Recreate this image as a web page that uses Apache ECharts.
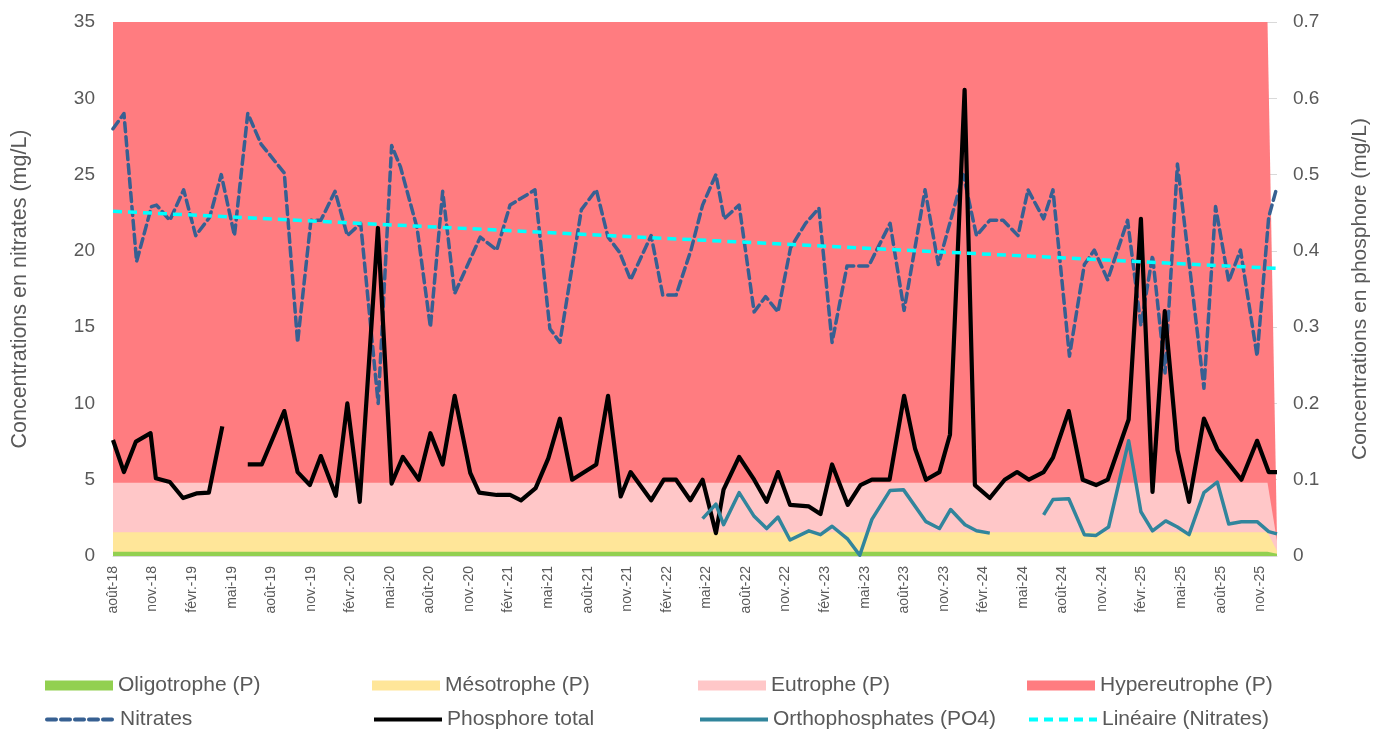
<!DOCTYPE html>
<html>
<head>
<meta charset="utf-8">
<script src="https://cdn.jsdelivr.net/npm/echarts@6/dist/echarts.min.js"></script>
<style>
html,body{margin:0;padding:0;background:#fff;overflow:hidden;}
#chart{width:1379px;height:729px;}
</style>
</head>
<body>
<div id="chart"></div>
<script>
// x values are months elapsed since 1 Aug 2018 (sampling dates)
const xTickLabels = ['août-18','nov.-18','févr.-19','mai-19','août-19','nov.-19','févr.-20','mai-20','août-20','nov.-20','févr.-21','mai-21','août-21','nov.-21','févr.-22','mai-22','août-22','nov.-22','févr.-23','mai-23','août-23','nov.-23','févr.-24','mai-24','août-24','nov.-24','févr.-25','mai-25','août-25','nov.-25'];
const xMax = 88.27;

const nitrateDates = [0,0.83,1.79,2.92,3.30,4.31,5.36,6.27,7.33,8.21,9.21,10.22,11.23,12.99,14.00,15.01,15.76,16.84,17.77,18.78,20.11,21.13,21.80,23.06,24.07,25.00,25.91,27.85,29.10,30.11,32.00,33.13,33.89,35.52,36.65,37.54,38.42,39.25,40.81,41.69,42.70,43.83,44.71,45.72,46.35,47.48,48.62,49.49,50.43,51.38,52.52,53.53,54.53,55.66,57.30,58.93,59.99,61.58,62.59,64.48,65.48,66.49,67.50,68.63,69.39,70.57,71.28,72.53,73.66,74.42,75.43,76.94,77.95,78.83,79.78,80.72,82.73,83.61,84.61,85.50,86.76,87.64,88.27];
const nitrates = [28.0,29.0,19.3,22.9,23.0,22.0,24.0,21.0,22.2,25.0,21.0,29.0,27.0,25.1,14.0,22.0,22.0,23.9,21.0,21.8,10.0,26.9,25.5,21.5,15.0,23.9,17.2,20.9,20.05,23.0,24.0,14.9,14.0,22.7,24.0,20.9,19.9,18.1,21.0,17.1,17.1,20.05,23.0,25.0,22.1,23.0,16.0,17.0,16.0,20.2,21.8,22.8,14.0,19.0,19.0,21.8,16.1,24.0,19.1,25.0,21.0,22.0,22.0,21.0,24.0,22.1,24.0,13.1,19.1,20.05,18.1,22.0,15.1,19.7,12.0,25.7,11.0,22.9,18.0,20.05,13.1,22.2,24.2];

const phosDates = [0,0.83,1.74,2.85,3.25,4.31,5.31,6.32,7.27,8.29,9.21,10.22,11.28,12.99,14.00,14.93,15.76,16.90,17.77,18.71,20.09,21.13,21.98,23.19,24.07,25.00,25.91,27.09,27.77,29.10,30.11,30.94,32.05,33.01,33.89,34.82,36.65,37.54,38.50,39.25,40.81,41.77,42.70,43.78,44.71,45.72,46.30,47.48,48.62,49.57,50.43,51.34,52.77,53.65,54.53,55.72,56.68,57.55,58.89,59.99,60.82,61.65,62.67,63.47,64.58,65.36,66.49,67.62,68.56,69.46,70.57,71.28,72.48,73.54,74.55,75.43,77.02,77.95,78.83,79.76,80.72,81.60,82.73,83.74,85.57,86.76,87.64,88.27];
const phosphoreTotal = [0.152,0.110,0.150,0.161,0.102,0.097,0.076,0.082,0.083,0.170,null,0.120,0.120,0.190,0.110,0.093,0.131,0.079,0.200,0.071,0.430,0.095,0.130,0.100,0.161,0.120,0.210,0.109,0.083,0.080,0.080,0.073,0.089,0.128,0.180,0.100,0.120,0.210,0.078,0.110,0.073,0.100,0.100,0.073,0.100,0.030,0.087,0.130,0.100,0.071,0.110,0.067,0.065,0.055,0.120,0.067,0.093,0.100,0.100,0.210,0.141,0.100,0.110,0.159,0.611,0.093,0.076,0.100,0.110,0.100,0.110,0.129,0.190,0.100,0.093,0.100,0.179,0.442,0.084,0.321,0.139,0.071,0.180,0.140,0.100,0.151,0.110,0.110];

const orthoDates = [44.71,45.72,46.30,47.48,48.62,49.57,50.43,51.34,52.77,53.65,54.53,55.72,56.63,57.55,58.93,59.94,61.65,62.67,63.52,64.61,65.48,66.49,69.00,70.57,71.28,72.48,73.66,74.55,75.50,77.02,77.95,78.83,79.83,80.72,81.60,82.73,83.74,84.61,85.57,86.76,87.64,88.27];
const orthophosphates = [0.049,0.068,0.041,0.083,0.052,0.036,0.051,0.021,0.033,0.028,0.039,0.022,0.001,0.048,0.086,0.087,0.045,0.036,0.061,0.041,0.033,0.030,null,0.054,0.074,0.075,0.028,0.027,0.038,0.151,0.058,0.033,0.046,0.038,0.028,0.083,0.097,0.042,0.045,0.045,0.032,0.029];

const trendDates = [0, 88.27];
const trendNitrates = [22.6, 18.85];

// trophic class thresholds (phosphorus, mg/L)
const zoneDates = [0, 87.55, 88.27];
const oligotrophe = [0.0055, 0.0055, 0.003];
const mesotrophe = [0.031, 0.031, 0.0065];
const eutrophe = [0.096, 0.096, 0.02];
const hypereutrophe = [0.7, 0.7, 0.024];

function pairs(xs, ys){ return xs.map((x,i)=>[x, ys[i]===null ? '-' : ys[i]]); }

const FONT = "'Liberation Sans', Arial, sans-serif";
const TXT = '#595959';

function area(name, color, xs, ys){
  return {name, type:'line', yAxisIndex:1, color, symbol:'none', silent:true,
    lineStyle:{width:0}, areaStyle:{color, opacity:1}, data:pairs(xs, ys), animation:false};
}

function legendItem(name, left, top, isLine){
  const l = {orient:'horizontal', left, top, padding:0, itemWidth:68, itemTextGap:7,
    selectedMode:false, textStyle:{fontFamily:FONT, fontSize:21, color:TXT}};
  if (isLine) {
    l.itemHeight = 2;
    l.data = [{name, itemStyle:{opacity:0}, lineStyle:{width:4}}];
  } else {
    l.itemHeight = 10;
    l.data = [{name, icon:'rect'}];
  }
  return l;
}

const chart = echarts.init(document.getElementById('chart'));
chart.setOption({
  animation:false,
  textStyle:{fontFamily:FONT},
  grid:{left:113, right:97, top:22, bottom:173, containLabel:false},
  legend:[
    legendItem('Oligotrophe (P)', 45, 675, false),
    legendItem('Mésotrophe (P)', 372, 675, false),
    legendItem('Eutrophe (P)', 698, 675, false),
    legendItem('Hypereutrophe (P)', 1027, 675, false),
    legendItem('Nitrates', 45, 709, true),
    legendItem('Phosphore total', 372, 709, true),
    legendItem('Orthophosphates (PO4)', 698, 709, true),
    legendItem('Linéaire (Nitrates)', 1027, 709, true)
  ],
  xAxis:{type:'value', min:0, max:xMax, interval:3,
    axisLine:{show:true, lineStyle:{color:'#d9d9d9', width:1}},
    axisTick:{show:false}, splitLine:{show:false},
    axisLabel:{rotate:90, margin:10, fontSize:14, color:TXT, fontFamily:FONT,
      formatter:function(v){ const k=v/3; if(Math.abs(k-Math.round(k))>1e-6) return ''; return xTickLabels[Math.round(k)]||''; }}
  },
  yAxis:[
    {type:'value', min:0, max:35, interval:5, position:'left',
      name:'Concentrations en nitrates (mg/L)', nameLocation:'middle', nameGap:82, nameRotate:90,
      nameTextStyle:{fontSize:21.5, color:TXT, fontFamily:FONT},
      axisLine:{show:false}, axisTick:{show:false},
      axisLabel:{fontSize:19, color:TXT, margin:18, fontFamily:FONT},
      splitLine:{show:true, lineStyle:{color:'#d9d9d9', width:1}}},
    {type:'value', min:0, max:0.7, interval:0.1, position:'right',
      name:'Concentrations en phosphore (mg/L)', nameLocation:'middle', nameGap:73, nameRotate:90,
      nameTextStyle:{fontSize:21, color:TXT, fontFamily:FONT},
      axisLine:{show:false}, axisTick:{show:false},
      axisLabel:{fontSize:19, color:TXT, margin:16, fontFamily:FONT,
        formatter:function(v){ return v===0 ? '0' : v.toFixed(1); }},
      splitLine:{show:false}}
  ],
  series:[
    area('Hypereutrophe (P)', '#FF7C80', zoneDates, hypereutrophe),
    area('Eutrophe (P)', '#FFC7C8', zoneDates, eutrophe),
    area('Mésotrophe (P)', '#FFE699', zoneDates, mesotrophe),
    area('Oligotrophe (P)', '#92D050', zoneDates, oligotrophe),
    {name:'Nitrates', type:'line', yAxisIndex:0, color:'#376092', symbol:'none', connectNulls:true,
      lineStyle:{width:3.5, type:[9,5], cap:'round', join:'round'}, data:pairs(nitrateDates, nitrates)},
    {name:'Phosphore total', type:'line', yAxisIndex:1, color:'#000000', symbol:'none',
      lineStyle:{width:4.2, join:'round'}, data:pairs(phosDates, phosphoreTotal)},
    {name:'Orthophosphates (PO4)', type:'line', yAxisIndex:1, color:'#31859C', symbol:'none',
      lineStyle:{width:3.5, join:'round'}, data:pairs(orthoDates, orthophosphates)},
    {name:'Linéaire (Nitrates)', type:'line', yAxisIndex:0, color:'#00FFFF', symbol:'none',
      lineStyle:{width:3.5, type:[9,6]}, data:pairs(trendDates, trendNitrates)}
  ]
});
</script>
</body>
</html>
